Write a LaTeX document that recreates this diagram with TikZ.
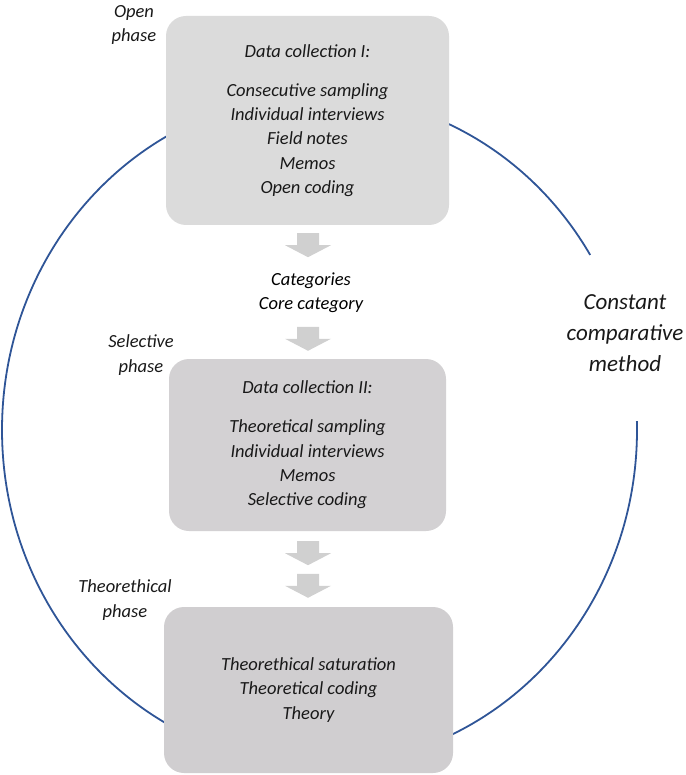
\documentclass[tikz,border=0pt]{standalone}
\usepackage{fontspec}
\setmainfont{Carlito}
\usepackage{tikz}
\definecolor{loopblue}{HTML}{2F5597}
\definecolor{boxone}{HTML}{DBDBDB}
\definecolor{boxtwo}{HTML}{D3D1D3}
\definecolor{boxthree}{HTML}{D0CED0}
\definecolor{arrowgray}{HTML}{D0D0D0}
\newcommand{\grayarrow}[1]{\fill [arrowgray] #1 ++(-11,0) -- ++(22,0) -- ++(0,12) -- ++(12,0) -- ++(-23,12) -- ++(-23,-12) -- ++(12,0) -- cycle;}
\begin{document}
\begin{tikzpicture}[x=1pt,y=-1pt]
\tikzstyle{every node}+=[inner sep=0pt,align=center,text=black!90,font=\itshape\fontsize{18.5}{24.4}\selectfont]
\tikzstyle{phasebox}=[rounded corners=20pt]
\useasboundingbox (0,0) rectangle (685,775);
\coordinate (mid) at (319.5,430);
\draw [loopblue, line width=1.8pt] ([shift={(-1.5:317.5 and 335)}]mid) arc [start angle=-1.5, end angle=328.5, x radius=317.5, y radius=335];
\node (open) [phasebox, fill=boxone, minimum width=283pt, minimum height=209pt] at (307.5,120.5) {Data collection I:\\[14.6pt] Consecutive sampling\\ Individual interviews\\ Field notes\\ Memos\\ Open coding};
\node (select) [phasebox, fill=boxtwo, minimum width=277pt, minimum height=172pt] at (307.5,445) {Data collection II:\\[14.6pt] Theoretical sampling\\ Individual interviews\\ Memos\\ Selective coding};
\node (theory) [phasebox, fill=boxthree, minimum width=289pt, minimum height=166pt] at (308.5,690) {Theorethical saturation\\ Theoretical coding\\ Theory};
\node (cats) [text=black] at (311,293) {Categories\\ Core category};
\node (openlbl) at (134,25) {Open\\ phase};
\node (sellbl) at (141,355) {Selective\\ phase};
\node (theolbl) at (125,600) {Theorethical\\ phase};
\node (ccm) [font=\itshape\fontsize{23}{31}\selectfont] at (625,333) {Constant\\ comparative\\ method};
\grayarrow{(open.south) ++(0.5,8)}
\grayarrow{(select.north) ++(0.5,-32)}
\grayarrow{(select.south) ++(0.5,10)}
\grayarrow{(theory.north) ++(-0.5,-33)}
\end{tikzpicture}
\end{document}
